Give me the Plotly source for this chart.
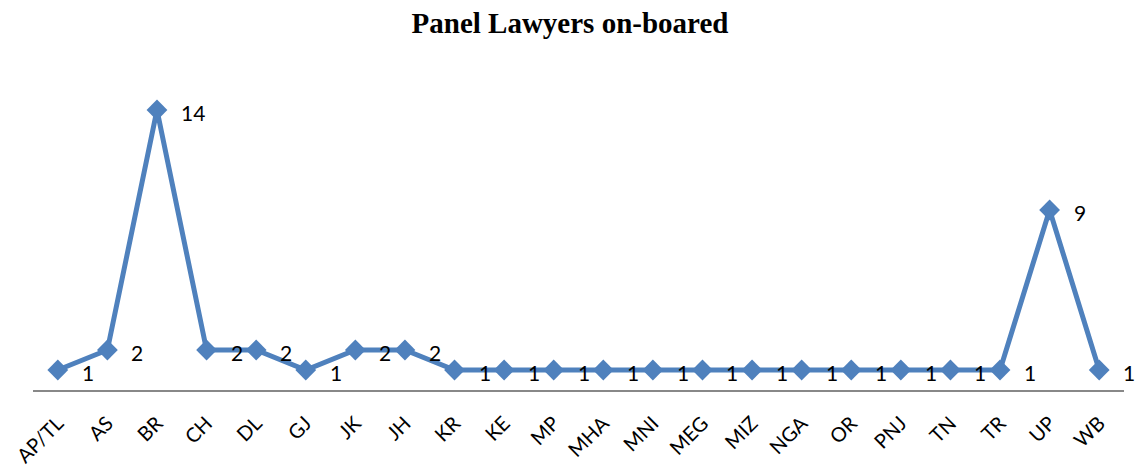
import plotly.graph_objects as go

categories = ["AP/TL", "AS", "BR", "CH", "DL", "GJ", "JK", "JH", "KR", "KE", "MP",
              "MHA", "MNI", "MEG", "MIZ", "NGA", "OR", "PNJ", "TN", "TR", "UP", "WB"]
values = [1, 2, 14, 2, 2, 1, 2, 2, 1, 1, 1, 1, 1, 1, 1, 1, 1, 1, 1, 1, 9, 1]
title_text = "Panel Lawyers on-boared"

color = "#4F81BD"
label_font = dict(family="Lato, Open Sans, sans-serif", size=21, color="#000000")
tick_font = dict(family="Lato, Open Sans, sans-serif", size=20, color="#000000")

fig = go.Figure()
fig.add_trace(go.Scatter(
    x=categories, y=values, mode="lines+markers",
    line=dict(color=color, width=5),
    marker=dict(symbol="diamond", size=16, color=color),
    hoverinfo="x+y", showlegend=False,
))

for c, v in zip(categories, values):
    fig.add_annotation(x=c, y=v, text=str(v), showarrow=False,
                       xanchor="left", yanchor="middle", xshift=22, yshift=-2,
                       font=label_font)

fig.update_layout(
    width=1140, height=470,
    margin=dict(l=33, r=16, t=70, b=80),
    paper_bgcolor="white", plot_bgcolor="white",
    title=dict(text="<b>" + title_text + "</b>", x=0.5, xanchor="center",
               y=0.952, yanchor="middle",
               font=dict(family="Liberation Serif, Times New Roman, serif", size=29, color="#000000")),
    xaxis=dict(type="category", range=[-0.5, 21.5], showgrid=False, zeroline=False,
               showline=True, linecolor="#888888", linewidth=1.5,
               tickangle=-45, ticks="", ticklabelstandoff=12, automargin=False,
               tickfont=tick_font, fixedrange=True),
    yaxis=dict(range=[0, 16], visible=False, showgrid=False, zeroline=False,
               automargin=False, fixedrange=True),
)

fig.write_html("out.html", config={"displayModeBar": False},
               post_script="document.body.style.margin='0';document.body.style.overflow='hidden';")
